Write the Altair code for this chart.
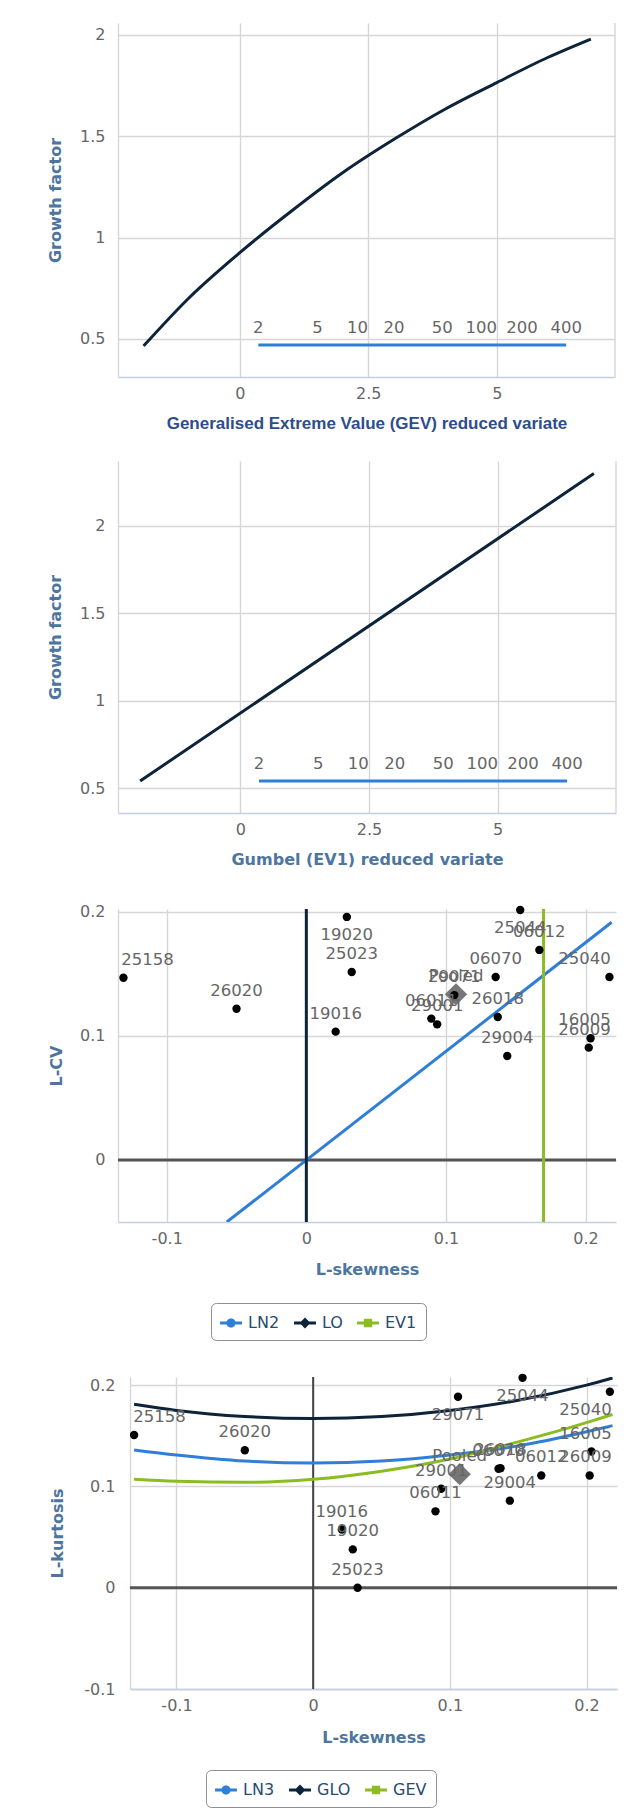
import altair as alt
import pandas as pd

# ---------------- values ----------------
# Panel 1: GEV growth curve (reduced variate -> growth factor)
gev_variate = [-1.87, -1.0, 0.0, 1.0, 2.0, 3.0, 4.0, 5.0, 6.0, 6.83]
gev_growth = [0.466, 0.70, 0.926, 1.13, 1.32, 1.485, 1.635, 1.765, 1.89, 1.98]
# Panel 2: Gumbel (EV1) growth line
gum_variate = [-1.95, 6.87]
gum_growth = [0.54, 2.30]
# return-period scale drawn in both growth panels
rp_labels = ["2", "5", "10", "20", "50", "100", "200", "400"]
rp_variate = [0.36, 1.51, 2.29, 3.0, 3.94, 4.70, 5.49, 6.35]
rp_level_gev = 0.47
rp_level_gum = 0.54

# Sites (L-moment ratios)
sites = ["25158", "26020", "19016", "19020", "25023", "06011", "29001", "29071",
         "06070", "26018", "29004", "25044", "06012", "26009", "16005", "25040"]
l_skew = [-0.131, -0.050, 0.021, 0.029, 0.0325, 0.0895, 0.0937, 0.106,
          0.1356, 0.1371, 0.1439, 0.1532, 0.1669, 0.2023, 0.2036, 0.2171]
l_cv = [0.147, 0.122, 0.1035, 0.196, 0.1516, 0.114, 0.1094, 0.133,
        0.1476, 0.1153, 0.0839, 0.2016, 0.1694, 0.0906, 0.0982, 0.1476]
l_kurt = [0.1508, 0.1357, 0.0574, 0.0378, 0.0, 0.0754, 0.0977, 0.1885,
          0.1174, 0.118, 0.0859, 0.2072, 0.1108, 0.1108, 0.1344, 0.1934]
pooled_skew = 0.1072
pooled_cv = 0.1336
pooled_kurt = 0.1121

# Panel 3 theoretical lines (L-skewness, L-CV)
cv_series = ["LN2", "LO", "EV1"]
ln2_skew = [-0.057, 0.2187]
ln2_cv = [-0.05, 0.1917]
lo_skew = [0.0, 0.0]
lo_cv = [-0.05, 0.2024]
ev1_skew = [0.1699, 0.1699]
ev1_cv = [-0.05, 0.2024]

# Panel 4 theoretical curves (L-skewness, L-kurtosis)
kurt_series = ["LN3", "GLO", "GEV"]
curve_skew = [-0.131, -0.1, -0.05, 0.0, 0.05, 0.1, 0.15, 0.2, 0.219]
ln3_kurt = [0.136, 0.131, 0.125, 0.123, 0.125, 0.131, 0.140, 0.154, 0.160]
glo_kurt = [0.181, 0.175, 0.169, 0.167, 0.169, 0.175, 0.185, 0.200, 0.207]
gev_kurt = [0.107, 0.105, 0.104, 0.107, 0.115, 0.127, 0.144, 0.163, 0.171]

# ---------------- styling ----------------
BLUE, NAVY, GREEN = "#2f7ed8", "#0d233a", "#8bbc21"
GRID = "#d6d6d6"
FONT = "DejaVu Sans"
LABEL_C = "#666666"
TITLE_C = "#4d759e"
LFS = 16.5  # data label font size

P_LINE = "M-1,-0.13H1V0.13H-1Z"
SYM_PATHS = [
    P_LINE + "M0.42,0A0.42,0.42,0,1,1,-0.42,0A0.42,0.42,0,1,1,0.42,0Z",
    P_LINE + "M0,-0.5L0.5,0L0,0.5L-0.5,0Z",
    P_LINE + "M-0.38,-0.38H0.38V0.38H-0.38Z",
]


def axis_x(vals, title, ty, tfont=FONT, tsize=16, tcolor=TITLE_C):
    return alt.Axis(values=vals, title=title, grid=True, gridColor=GRID, gridWidth=1.4,
                    domain=True, domainColor="#C0D0E0", domainWidth=1.5,
                    ticks=False, tickSize=0, labelPadding=16, labelBaseline="middle",
                    labelFont=FONT, labelFontSize=16, labelColor=LABEL_C,
                    labelExpr="'' + datum.value", labelOverlap=False,
                    titleFont=tfont, titleFontSize=tsize, titleFontWeight="bold",
                    titleColor=tcolor, titleY=ty, titleBaseline="middle")


def axis_y(vals, title, tx, offset=0, lpad=13):
    kw = dict(values=vals, title=title, grid=True, gridColor=GRID, gridWidth=1.4,
              domain=True, domainColor=GRID, domainWidth=1.4,
              ticks=False, tickSize=0, labelPadding=lpad,
              labelFont=FONT, labelFontSize=16, labelColor=LABEL_C,
              labelExpr="'' + datum.value", labelOverlap=False,
              titleFont=FONT, titleFontSize=16, titleFontWeight="bold",
              titleColor=TITLE_C, titleX=tx, titleBaseline="middle", titleAngle=270)
    if offset:
        kw["offset"] = offset
    return alt.Axis(**kw)


def label_frame(names, xs, ys, xdom, ydom, width, height, rlo=0):
    """Highcharts-like data-label placement: centred above, pushed inside the plot."""
    pxu = (width - rlo) / (xdom[1] - xdom[0])
    pyu = height / (ydom[1] - ydom[0])
    rows = []
    for n, x, y in zip(names, xs, ys):
        half = len(n) * 0.62 * LFS / 2
        px = rlo + (x - xdom[0]) * pxu
        c = min(max(px, rlo + 4 + half), width - 6 - half)
        rows.append({"x": xdom[0] + (c - rlo) / pxu, "y": y, "label": n,
                     "pos": "below" if (ydom[1] - y) * pyu < 28 else "above"})
    return pd.DataFrame(rows)


def text_layers(df):
    base = alt.Chart(df)
    kw = dict(font=FONT, fontSize=LFS, color=LABEL_C, align="center", baseline="middle")
    up = base.transform_filter("datum.pos == 'above'").mark_text(dy=-18, **kw).encode(
        x="x:Q", y="y:Q", text="label:N")
    dn = base.transform_filter("datum.pos == 'below'").mark_text(dy=18, **kw).encode(
        x="x:Q", y="y:Q", text="label:N")
    return [up, dn]


def growth_panel(cx, cy, level, xdom, ydom, w, h, xtitle, tfont, tsize, tcolor):
    xs = alt.Scale(domain=xdom, nice=False, zero=False)
    ys = alt.Scale(domain=ydom, nice=False, zero=False)
    curve = alt.Chart(pd.DataFrame({"x": cx, "y": cy})).mark_line(
        color=NAVY, strokeWidth=3, interpolate="monotone", clip=True).encode(
        x=alt.X("x:Q", scale=xs, axis=axis_x([0, 2.5, 5], xtitle, 46, tfont, tsize, tcolor)),
        y=alt.Y("y:Q", scale=ys, axis=axis_y([0.5, 1, 1.5, 2], "Growth factor", -63)))
    border = alt.Chart(pd.DataFrame({"x": [xdom[1]]})).mark_rule(
        color=GRID, strokeWidth=1.4).encode(x="x:Q")
    rp = pd.DataFrame({"x": rp_variate, "y": [level] * len(rp_variate), "label": rp_labels})
    rpline = alt.Chart(rp).mark_line(color=BLUE, strokeWidth=3).encode(x="x:Q", y="y:Q")
    rptext = alt.Chart(rp).mark_text(dy=-17, font=FONT, fontSize=LFS, color=LABEL_C,
                                     align="center", baseline="middle").encode(
        x="x:Q", y="y:Q", text="label:N")
    return alt.layer(border, curve, rpline, rptext).properties(width=w, height=h)


def legend_layer(names, lx, ly):
    leg = alt.Legend(orient="none", legendX=lx, legendY=ly, direction="horizontal",
                     title=None, padding=9, strokeColor="#909090", cornerRadius=5,
                     fillColor="white", labelFont=FONT, labelFontSize=16,
                     labelColor="#274b6d", symbolSize=480, symbolStrokeWidth=0,
                     columnPadding=14, labelOffset=6)
    df = pd.DataFrame({"series": names, "x": [0.0] * 3, "y": [0.0] * 3})
    return alt.Chart(df).transform_filter("false").mark_point(filled=True, opacity=1).encode(
        x="x:Q", y="y:Q",
        color=alt.Color("series:N", scale=alt.Scale(domain=names, range=[BLUE, NAVY, GREEN]),
                        legend=leg),
        shape=alt.Shape("series:N", scale=alt.Scale(domain=names, range=SYM_PATHS),
                        legend=leg))


# ---------------- panel 1 & 2 ----------------
p1 = growth_panel(gev_variate, gev_growth, rp_level_gev, [-2.37, 7.3], [0.3125, 2.059],
                  497, 354, "Generalised Extreme Value (GEV) reduced variate",
                  "Liberation Sans", 17, "#2e4d8c")
p2 = growth_panel(gum_variate, gum_growth, rp_level_gum, [-2.38, 7.3], [0.357, 2.372],
                  498, 352, "Gumbel (EV1) reduced variate", FONT, 16, TITLE_C)

# ---------------- panel 3: L-CV vs L-skewness ----------------
W3, H3 = 498, 313
x3dom, y3dom = [-0.1349, 0.2218], [-0.05, 0.2024]
lines3 = pd.DataFrame({
    "series": ["LN2"] * 2 + ["LO"] * 2 + ["EV1"] * 2,
    "c": [BLUE] * 2 + [NAVY] * 2 + [GREEN] * 2,
    "o": [0, 1] * 3,
    "x": ln2_skew + lo_skew + ev1_skew,
    "y": ln2_cv + lo_cv + ev1_cv,
})
xs3 = alt.Scale(domain=x3dom, nice=False, zero=False)
ys3 = alt.Scale(domain=y3dom, nice=False, zero=False)
frame3 = alt.Chart(pd.DataFrame({"x": [x3dom[1]], "y": [0.0]})).mark_rule(
    color=GRID, strokeWidth=1.4).encode(
    x=alt.X("x:Q", scale=xs3, axis=axis_x([-0.1, 0, 0.1, 0.2], "L-skewness", 47)),
    y=alt.Y("y:Q", scale=ys3, axis=axis_y([0, 0.1, 0.2], "L-CV", -62)))
zero3 = alt.Chart(pd.DataFrame({"y": [0.0]})).mark_rule(color="#555555", strokeWidth=3).encode(
    y="y:Q")
ser3 = alt.Chart(lines3).mark_line(strokeWidth=3, clip=True).encode(
    x="x:Q", y="y:Q", detail="series:N", order="o:Q", stroke=alt.Stroke("c:N", scale=None))
pool3 = alt.Chart(pd.DataFrame({"x": [pooled_skew], "y": [pooled_cv]})).mark_point(
    shape="diamond", filled=True, size=500, color="#777777", opacity=1).encode(x="x:Q", y="y:Q")
pts3 = alt.Chart(pd.DataFrame({"x": l_skew, "y": l_cv})).mark_circle(
    size=70, color="black", opacity=1).encode(x="x:Q", y="y:Q")
lab3 = label_frame(sites + ["Pooled"], l_skew + [pooled_skew], l_cv + [pooled_cv],
                   x3dom, y3dom, W3, H3)
p3 = alt.layer(frame3, zero3, ser3, pool3, pts3, *text_layers(lab3),
               legend_layer(cv_series, 93, 394)).properties(
    width=W3, height=H3, title=alt.TitleParams(" ", fontSize=1, offset=6))

# ---------------- panel 4: L-kurtosis vs L-skewness ----------------
W4, H4, R4 = 499, 312, 12
x4dom, y4dom = [-0.134, 0.2223], [-0.1, 0.208]
n = len(curve_skew)
lines4 = pd.DataFrame({
    "series": ["LN3"] * n + ["GLO"] * n + ["GEV"] * n,
    "c": [BLUE] * n + [NAVY] * n + [GREEN] * n,
    "x": curve_skew * 3,
    "y": ln3_kurt + glo_kurt + gev_kurt,
})
xs4 = alt.Scale(domain=x4dom, nice=False, zero=False, range=[R4, W4])
ys4 = alt.Scale(domain=y4dom, nice=False, zero=False)
frame4 = alt.Chart(pd.DataFrame({"x": [x4dom[1]], "y": [0.0]})).mark_rule(
    color=GRID, strokeWidth=1.4).encode(
    x=alt.X("x:Q", scale=xs4, axis=axis_x([-0.1, 0, 0.1, 0.2], "L-skewness", 48)),
    y=alt.Y("y:Q", scale=ys4, axis=axis_y([-0.1, 0, 0.1, 0.2], "L-kurtosis", -73,
                                          offset=-R4, lpad=15)))
zero4h = alt.Chart(pd.DataFrame({"x": [x4dom[0]], "x2": [x4dom[1]], "y": [0.0]})).mark_rule(
    color="#555555", strokeWidth=3).encode(x="x:Q", x2="x2:Q", y="y:Q")
zero4v = alt.Chart(pd.DataFrame({"x": [0.0]})).mark_rule(
    color="#444444", strokeWidth=2).encode(x="x:Q")
ser4 = alt.Chart(lines4).mark_line(strokeWidth=3, interpolate="monotone", clip=True).encode(
    x="x:Q", y="y:Q", detail="series:N", stroke=alt.Stroke("c:N", scale=None))
pool4 = alt.Chart(pd.DataFrame({"x": [pooled_skew], "y": [pooled_kurt]})).mark_point(
    shape="diamond", filled=True, size=500, color="#777777", opacity=1).encode(x="x:Q", y="y:Q")
pts4 = alt.Chart(pd.DataFrame({"x": l_skew, "y": l_kurt})).mark_circle(
    size=70, color="black", opacity=1).encode(x="x:Q", y="y:Q")
lab4 = label_frame(sites + ["Pooled"], l_skew + [pooled_skew], l_kurt + [pooled_kurt],
                   x4dom, y4dom, W4, H4, rlo=R4)
p4 = alt.layer(frame4, zero4h, zero4v, ser4, pool4, pts4, *text_layers(lab4),
               legend_layer(kurt_series, 88, 393)).properties(
    width=W4, height=H4, title=alt.TitleParams(" ", fontSize=1, offset=2))

chart = alt.concat(p1, p2, p3, p4, columns=1, spacing=29).resolve_scale(
    color="independent", shape="independent", stroke="independent"
).resolve_legend(
    color="independent", shape="independent"
).properties(
    padding={"left": 39, "top": 14, "right": 4, "bottom": 4},
    background="white",
).configure_view(stroke=None)

chart.save("out.html", embed_options={"renderer": "svg", "actions": False})
